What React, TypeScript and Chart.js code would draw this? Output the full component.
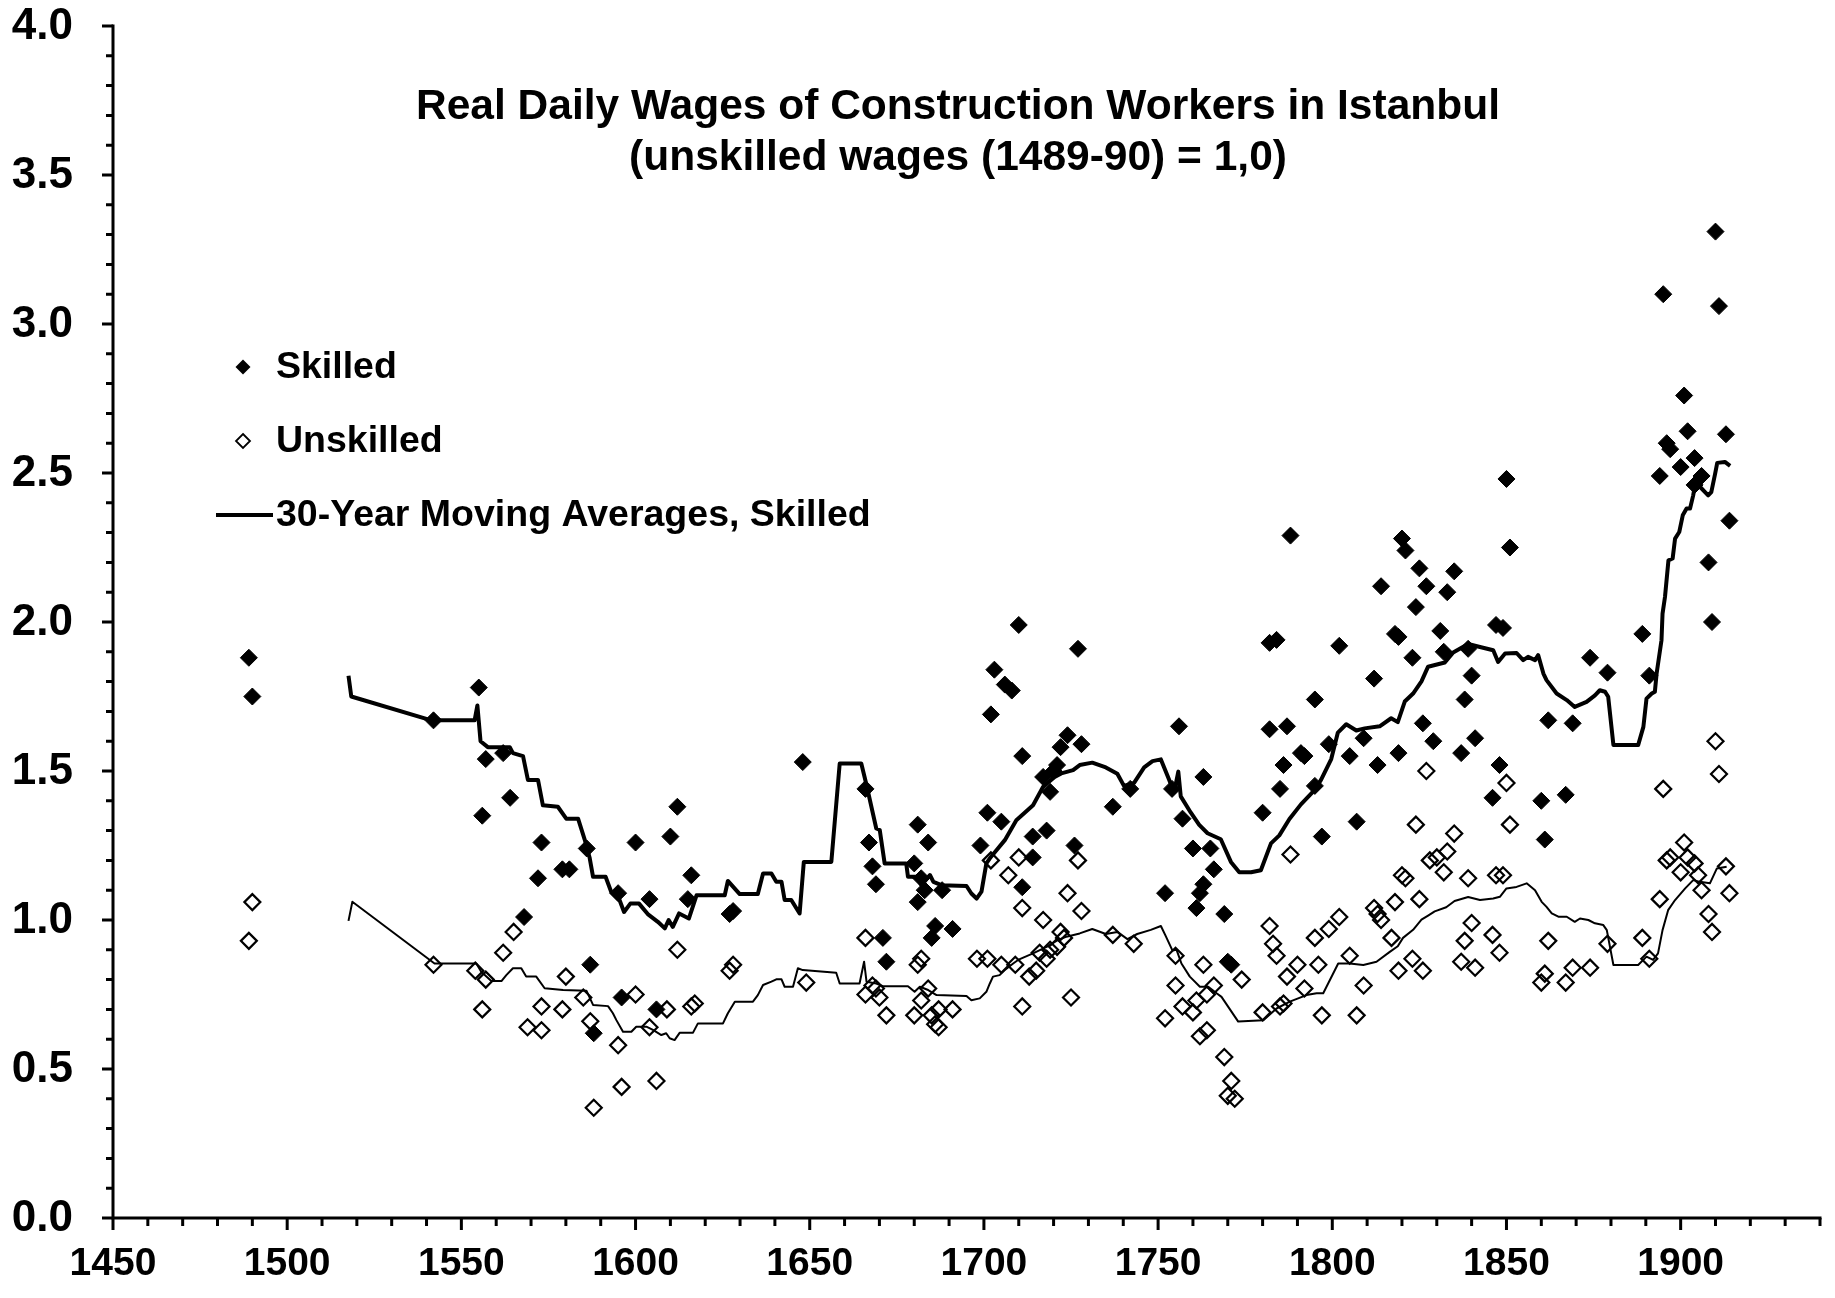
import React, { useEffect, useRef } from "react";
import { Chart, registerables } from "chart.js";

Chart.register(...registerables);

const FONT = '"Liberation Sans", Arial, Helvetica, sans-serif';

const titleLines = [
  "Real Daily Wages of Construction Workers in Istanbul",
  "(unskilled wages (1489-90) = 1,0)",
];
const legendLabels = ["Skilled", "Unskilled", "30-Year Moving Averages, Skilled"];

const skilledYears = [
  1489, 1490, 1542, 1555, 1556, 1557, 1562, 1564, 1568, 1572, 1573, 1579, 1581, 1586, 1587, 1588,
  1595, 1596, 1600, 1604, 1606, 1610, 1612, 1615, 1616, 1627, 1628, 1648, 1666, 1667, 1668, 1669,
  1671, 1672, 1680, 1681, 1681, 1682, 1683, 1684, 1685, 1686, 1688, 1691, 1699, 1701, 1702, 1703,
  1705, 1706, 1708, 1710, 1711, 1711, 1714, 1714, 1717, 1718, 1719, 1720, 1721, 1722, 1724, 1726,
  1727, 1728, 1737, 1742, 1752, 1754, 1756, 1757, 1760, 1761, 1762, 1763, 1763, 1765, 1766, 1769,
  1770, 1771, 1780, 1782, 1782, 1784, 1785, 1786, 1787, 1788, 1791, 1792, 1795, 1795, 1797, 1799,
  1802, 1805, 1807, 1809, 1812, 1813, 1814, 1818, 1819, 1819, 1820, 1821, 1823, 1824, 1825, 1826,
  1827, 1829, 1831, 1832, 1833, 1835, 1837, 1838, 1839, 1840, 1841, 1846, 1847, 1848, 1849, 1850,
  1851, 1860, 1861, 1862, 1867, 1869, 1874, 1879, 1889, 1891, 1894, 1895, 1896, 1897, 1900, 1901,
  1902, 1904, 1904, 1906, 1908, 1909, 1910, 1911, 1913, 1914,
];
const skilledWages = [
  1.88, 1.75, 1.67, 1.78, 1.35, 1.54, 1.56, 1.41, 1.01, 1.14, 1.26, 1.17, 1.17, 1.24, 0.85, 0.62,
  1.09, 0.74, 1.26, 1.07, 0.7, 1.28, 1.38, 1.07, 1.15, 1.02, 1.03, 1.53, 1.44, 1.26, 1.18, 1.12,
  0.94, 0.86, 1.19, 1.32, 1.06, 1.14, 1.1, 1.26, 0.94, 0.98, 1.1, 0.97, 1.25, 1.36, 1.69, 1.84,
  1.33, 1.79, 1.77, 1.99, 1.55, 1.11, 1.21, 1.28, 1.48, 1.3, 1.43, 1.5, 1.52, 1.58, 1.62, 1.25,
  1.91, 1.59, 1.38, 1.44, 1.09, 1.44, 1.65, 1.34, 1.24, 1.04, 1.09, 1.12, 1.48, 1.24, 1.17, 1.02,
  0.86, 0.85, 1.36, 1.93, 1.64, 1.94, 1.44, 1.52, 1.65, 2.29, 1.56, 1.55, 1.74, 1.45, 1.28, 1.59,
  1.92, 1.55, 1.33, 1.61, 1.81, 1.52, 2.12, 1.96, 1.95, 1.56, 2.28, 2.24, 1.88, 2.05, 2.18, 1.66,
  2.12, 1.6, 1.97, 1.9, 2.1, 2.17, 1.56, 1.74, 1.91, 1.82, 1.61, 1.41, 1.99, 1.52, 1.98, 2.48,
  2.25, 1.4, 1.27, 1.67, 1.42, 1.66, 1.88, 1.83, 1.96, 1.82, 2.49, 3.1, 2.6, 2.58, 2.52, 2.76,
  2.64, 2.55, 2.46, 2.49, 2.2, 2.0, 3.31, 3.06, 2.63, 2.34,
];

const unskilledYears = [
  1489, 1490, 1542, 1554, 1556, 1557, 1562, 1565, 1569, 1573, 1573, 1579, 1580, 1585, 1587, 1588,
  1595, 1596, 1600, 1604, 1606, 1609, 1612, 1616, 1617, 1627, 1628, 1649, 1666, 1666, 1668, 1669,
  1670, 1672, 1680, 1681, 1682, 1682, 1684, 1685, 1686, 1687, 1687, 1691, 1698, 1701, 1702, 1705,
  1707, 1709, 1710, 1711, 1711, 1713, 1715, 1716, 1717, 1718, 1719, 1721, 1722, 1723, 1724, 1725,
  1727, 1728, 1737, 1743, 1752, 1755, 1755, 1757, 1760, 1761, 1762, 1763, 1764, 1764, 1766, 1769,
  1770, 1771, 1772, 1774, 1780, 1782, 1783, 1784, 1785, 1786, 1787, 1788, 1790, 1792, 1795, 1796,
  1797, 1799, 1802, 1805, 1807, 1809, 1812, 1813, 1814, 1817, 1818, 1819, 1820, 1821, 1823, 1824,
  1825, 1826, 1827, 1828, 1830, 1832, 1833, 1835, 1837, 1838, 1839, 1840, 1841, 1846, 1847, 1848,
  1849, 1850, 1851, 1860, 1861, 1862, 1867, 1869, 1874, 1879, 1889, 1891, 1894, 1895, 1896, 1897,
  1900, 1901, 1902, 1904, 1905, 1906, 1908, 1909, 1910, 1911, 1913, 1914,
];
const unskilledWages = [
  0.93, 1.06, 0.85, 0.83, 0.7, 0.8, 0.89, 0.96, 0.64, 0.71, 0.63, 0.7, 0.81, 0.74, 0.66, 0.37,
  0.58, 0.44, 0.75, 0.64, 0.46, 0.7, 0.9, 0.71, 0.72, 0.83, 0.85, 0.79, 0.94, 0.75, 0.78, 0.77,
  0.74, 0.68, 0.68, 0.85, 0.87, 0.73, 0.77, 0.68, 0.65, 0.64, 0.7, 0.7, 0.87, 0.87, 1.2, 0.85,
  1.15, 0.85, 1.21, 1.04, 0.71, 0.81, 0.83, 0.89, 1.0, 0.87, 0.9, 0.91, 0.96, 0.94, 1.09, 0.74,
  1.2, 1.03, 0.95, 0.92, 0.67, 0.88, 0.78, 0.71, 0.69, 0.73, 0.61, 0.85, 0.75, 0.63, 0.78, 0.54,
  0.41, 0.46, 0.4, 0.8, 0.69, 0.98, 0.92, 0.88, 0.71, 0.72, 0.81, 1.22, 0.85, 0.77, 0.94, 0.85,
  0.68, 0.97, 1.01, 0.88, 0.68, 0.78, 1.04, 1.02, 1.0, 0.94, 1.06, 0.83, 1.15, 1.14, 0.87, 1.32,
  1.07, 0.83, 1.5, 1.2, 1.21, 1.16, 1.23, 1.29, 0.86, 0.93, 1.14, 0.99, 0.84, 0.95, 1.15, 0.89,
  1.15, 1.46, 1.32, 0.79, 0.82, 0.93, 0.79, 0.84, 0.84, 0.92, 0.94, 0.87, 1.07, 1.44, 1.2, 1.21,
  1.16, 1.26, 1.21, 1.19, 1.15, 1.1, 1.02, 0.96, 1.6, 1.49, 1.18, 1.09,
];

const skilledAvgYears = [
  1517.6, 1518.4, 1541.4, 1553.8, 1554.6, 1555.5, 1557.6, 1563.9, 1564.8, 1567.7, 1569.1, 1572,
  1573.4, 1577.7, 1580.1, 1583.5, 1585.4, 1586.8, 1587.8, 1591.4, 1593, 1595.4, 1596.7, 1598.5,
  1601, 1603.5, 1606.4, 1608.4, 1609.5, 1610.7, 1612.5, 1615.3, 1617.5, 1625.6, 1626.5, 1629.9,
  1635.1, 1636.6, 1639, 1640.4, 1641.9, 1642.8, 1644.7, 1647.1, 1648.3, 1656.2, 1658.6, 1664.8,
  1666.3, 1669.1, 1670.1, 1671.5, 1677.7, 1678.2, 1680.6, 1682.1, 1684.5, 1685.5, 1687.8, 1695,
  1696.4, 1697.9, 1699.3, 1700.7, 1701.7, 1703.6, 1706, 1709.3, 1714.1, 1717, 1720.3, 1722.2,
  1725.6, 1727.5, 1731.1, 1735, 1738.3, 1740.2, 1743.1, 1746, 1748.4, 1750.8, 1752.7, 1754.6,
  1755.8, 1756.5, 1759.4, 1761.8, 1764.2, 1768, 1770.9, 1773.3, 1776.7, 1779.5, 1782.4, 1784.8,
  1787.7, 1791, 1794.9, 1796.8, 1799.7, 1801.6, 1804, 1806.9, 1809.3, 1813.6, 1816.9, 1818.8,
  1820.8, 1823.2, 1825.6, 1827.5, 1832.3, 1834.7, 1839, 1842.4, 1846.2, 1847.6, 1849.6, 1852.9,
  1854.8, 1856.2, 1858.2, 1859.1, 1860.6, 1861.5, 1864.4, 1867.3, 1869.6, 1873, 1875.4, 1876.8,
  1878.3, 1879.2, 1880.7, 1887.8, 1889.3, 1890.2, 1891.7, 1892.6, 1893.1, 1894.5, 1894.8, 1895.5,
  1896.5, 1897.7, 1898.4, 1899.6, 1900.6, 1901.7, 1902.7, 1903.6, 1904.1, 1905.6, 1907, 1907.9,
  1908.8, 1909.9, 1910.5, 1912.7, 1914.2,
];
const skilledAvgValues = [
  1.82, 1.75, 1.67, 1.67, 1.72, 1.6, 1.58, 1.58, 1.56, 1.55, 1.47, 1.47, 1.385, 1.38, 1.34, 1.34,
  1.27, 1.21, 1.145, 1.145, 1.095, 1.067, 1.027, 1.055, 1.055, 1.02, 0.994, 0.972, 1.0, 0.977,
  1.022, 1.005, 1.083, 1.083, 1.131, 1.087, 1.087, 1.156, 1.156, 1.128, 1.128, 1.067, 1.067, 1.022,
  1.195, 1.195, 1.525, 1.525, 1.453, 1.307, 1.302, 1.19, 1.19, 1.145, 1.145, 1.117, 1.151, 1.128,
  1.117, 1.114, 1.089, 1.072, 1.095, 1.19, 1.207, 1.234, 1.268, 1.335, 1.385, 1.447, 1.48, 1.492,
  1.503, 1.52, 1.528, 1.512, 1.491, 1.45, 1.46, 1.512, 1.533, 1.539, 1.484, 1.429, 1.498, 1.415,
  1.36, 1.319, 1.291, 1.271, 1.195, 1.16, 1.16, 1.167, 1.257, 1.284, 1.339, 1.388, 1.436, 1.471,
  1.54, 1.629, 1.657, 1.636, 1.643, 1.65, 1.677, 1.664, 1.733, 1.76, 1.801, 1.85, 1.864, 1.898,
  1.926, 1.916, 1.905, 1.866, 1.894, 1.896, 1.872, 1.883, 1.872, 1.889, 1.827, 1.805, 1.76, 1.738,
  1.715, 1.732, 1.754, 1.771, 1.766, 1.749, 1.587, 1.587, 1.648, 1.743, 1.76, 1.766, 1.827, 1.939,
  2.028, 2.084, 2.207, 2.213, 2.28, 2.302, 2.358, 2.381, 2.381, 2.425, 2.459, 2.453, 2.436, 2.425,
  2.436, 2.498, 2.534, 2.537, 2.524,
];

const unskilledAvgYears = [
  1517.6, 1518.7, 1542.3, 1554.3, 1555.7, 1558.6, 1561.5, 1562.9, 1564.8, 1567.2, 1568.6, 1571.5,
  1573.9, 1579.2, 1585.9, 1587.8, 1592.1, 1593.5, 1594.5, 1596.4, 1598.8, 1600.2, 1603.1, 1605,
  1607.4, 1608.8, 1609.8, 1611.2, 1612.7, 1616.5, 1617.9, 1625.1, 1626.5, 1628.5, 1633.7, 1635.1,
  1636.6, 1639, 1640.4, 1641.9, 1642.8, 1645.2, 1646.6, 1648, 1657.6, 1658.6, 1664.3, 1665.6,
  1666.3, 1669.1, 1671, 1678.2, 1680.1, 1681.6, 1684, 1686.4, 1695, 1696.4, 1698.8, 1700.7, 1701.7,
  1702.6, 1704.5, 1706, 1708.4, 1709.8, 1714.1, 1718, 1721.3, 1723.7, 1727.5, 1731.1, 1735, 1738.3,
  1741.2, 1744, 1747.9, 1750.8, 1752.2, 1754.1, 1755.3, 1756.7, 1759.1, 1762, 1764.4, 1766.8,
  1768.2, 1773, 1780.2, 1784, 1787.8, 1792.6, 1795.5, 1797.4, 1801.7, 1805, 1808.9, 1812.7, 1816.5,
  1818.8, 1820.3, 1823.2, 1825.6, 1827.5, 1829.4, 1832.7, 1835.1, 1839, 1842.4, 1846.2, 1848.1,
  1850, 1852.9, 1855.8, 1858.2, 1860.1, 1861.5, 1863, 1864.9, 1867.3, 1869.6, 1871.1, 1873.5,
  1875.4, 1877.8, 1878.8, 1880.7, 1887.8, 1890.2, 1892.1, 1893.5, 1894.8, 1896.4, 1898.4, 1901.3,
  1903.6, 1905.5, 1908.4, 1910.4, 1913.2,
];
const unskilledAvgValues = [
  0.997, 1.061, 0.854, 0.854, 0.826, 0.795, 0.795, 0.815, 0.838, 0.838, 0.81, 0.81, 0.771, 0.765,
  0.763, 0.715, 0.711, 0.687, 0.664, 0.625, 0.625, 0.642, 0.642, 0.631, 0.614, 0.62, 0.603, 0.597,
  0.622, 0.622, 0.653, 0.653, 0.687, 0.726, 0.726, 0.748, 0.782, 0.793, 0.801, 0.801, 0.776, 0.776,
  0.838, 0.832, 0.823, 0.787, 0.787, 0.86, 0.793, 0.787, 0.778, 0.778, 0.759, 0.776, 0.765, 0.748,
  0.745, 0.731, 0.737, 0.759, 0.787, 0.81, 0.815, 0.832, 0.854, 0.866, 0.888, 0.91, 0.933, 0.944,
  0.955, 0.97, 0.953, 0.96, 0.936, 0.953, 0.967, 0.98, 0.946, 0.898, 0.9, 0.854, 0.81, 0.776, 0.776,
  0.754, 0.742, 0.659, 0.664, 0.703, 0.726, 0.748, 0.754, 0.754, 0.854, 0.854, 0.849, 0.86, 0.893,
  0.912, 0.94, 0.967, 1.001, 1.015, 1.029, 1.043, 1.064, 1.077, 1.067, 1.072, 1.078, 1.106, 1.111,
  1.123, 1.1, 1.061, 1.044, 1.022, 1.011, 1.011, 0.994, 1.005, 1.0, 0.989, 0.983, 0.966, 0.849,
  0.849, 0.877, 0.866, 0.888, 0.966, 1.033, 1.067, 1.106, 1.134, 1.128, 1.123, 1.173, 1.179,
];

const toPoints = (xs: number[], ys: number[]) => xs.map((x, i) => ({ x, y: ys[i] }));

const isMultiple = (v: number, step: number) => Math.abs(v / step - Math.round(v / step)) < 1e-6;

function drawDiamond(ctx: CanvasRenderingContext2D, x: number, y: number, r: number) {
  ctx.beginPath();
  ctx.moveTo(x, y - r);
  ctx.lineTo(x + r, y);
  ctx.lineTo(x, y + r);
  ctx.lineTo(x - r, y);
  ctx.closePath();
}

const overlayPlugin = {
  id: "overlay",
  afterDraw(chart: any) {
    const { ctx, chartArea: a, scales } = chart;
    const xs = scales.x;
    const ys = scales.y;
    ctx.save();
    ctx.strokeStyle = "#000";
    ctx.fillStyle = "#000";
    ctx.lineWidth = 3;
    ctx.lineCap = "butt";
    // axis lines
    ctx.beginPath();
    ctx.moveTo(a.left, a.top - 1.5);
    ctx.lineTo(a.left, a.bottom + 1.5);
    ctx.moveTo(a.left - 1.5, a.bottom);
    ctx.lineTo(a.right + 1.5, a.bottom);
    ctx.stroke();
    // tick marks
    ctx.beginPath();
    ys.ticks.forEach((t: any) => {
      const py = ys.getPixelForValue(t.value);
      const len = isMultiple(t.value, 0.5) ? 11 : 7;
      ctx.moveTo(a.left - len, py);
      ctx.lineTo(a.left, py);
    });
    xs.ticks.forEach((t: any) => {
      const px = xs.getPixelForValue(t.value);
      const len = isMultiple(t.value, 50) ? 12 : 8;
      ctx.moveTo(px, a.bottom);
      ctx.lineTo(px, a.bottom + len);
    });
    ctx.stroke();

    // tick labels
    ctx.textBaseline = "middle";
    ctx.font = `bold 44px ${FONT}`;
    ctx.textAlign = "right";
    ys.ticks.forEach((t: any) => {
      if (!isMultiple(t.value, 0.5)) return;
      ctx.fillText(Number(t.value).toFixed(1), a.left - 40, ys.getPixelForValue(t.value) + 1);
    });
    ctx.font = `bold 39px ${FONT}`;
    ctx.textAlign = "center";
    xs.ticks.forEach((t: any) => {
      if (!isMultiple(t.value, 50)) return;
      ctx.fillText(String(Math.round(t.value)), xs.getPixelForValue(t.value), a.bottom + 46);
    });

    // title
    ctx.textAlign = "center";
    ctx.font = `bold 42.5px ${FONT}`;
    ctx.fillText(titleLines[0], 958, 107);
    ctx.fillText(titleLines[1], 958, 158);

    // legend
    ctx.textAlign = "left";
    ctx.font = `bold 37.5px ${FONT}`;
    drawDiamond(ctx, 243, 367, 7.5);
    ctx.fill();
    ctx.fillText(legendLabels[0], 276, 368);
    ctx.lineWidth = 1.8;
    drawDiamond(ctx, 243, 441, 7);
    ctx.stroke();
    ctx.fillText(legendLabels[1], 276, 442);
    ctx.lineWidth = 4;
    ctx.beginPath();
    ctx.moveTo(216, 515);
    ctx.lineTo(273, 515);
    ctx.stroke();
    ctx.fillText(legendLabels[2], 276, 516);
    ctx.restore();
  },
};

export default function App() {
  const canvasRef = useRef<HTMLCanvasElement | null>(null);

  useEffect(() => {
    document.body.style.margin = "0";
    const canvas = canvasRef.current;
    if (!canvas) return;
    const chart = new Chart(canvas, {
      type: "scatter",
      data: {
        datasets: [
          {
            label: legendLabels[0],
            data: toPoints(skilledYears, skilledWages),
            pointStyle: "rectRot",
            pointRadius: 8.5,
            pointBackgroundColor: "#000",
            pointBorderColor: "#000",
            pointBorderWidth: 1,
            showLine: false,
            order: 1,
          },
          {
            label: legendLabels[1],
            data: toPoints(unskilledYears, unskilledWages),
            pointStyle: "rectRot",
            pointRadius: 8,
            pointBackgroundColor: "rgba(255,255,255,0)",
            pointBorderColor: "#000",
            pointBorderWidth: 2.2,
            showLine: false,
            order: 2,
          },
          {
            label: legendLabels[2],
            data: toPoints(skilledAvgYears, skilledAvgValues),
            showLine: true,
            pointRadius: 0,
            borderColor: "#000",
            borderWidth: 4,
            borderJoinStyle: "round",
            tension: 0,
            order: 3,
          },
          {
            label: "30-Year Moving Averages, Unskilled",
            data: toPoints(unskilledAvgYears, unskilledAvgValues),
            showLine: true,
            pointRadius: 0,
            borderColor: "#000",
            borderWidth: 2,
            borderJoinStyle: "round",
            tension: 0,
            order: 4,
          },
        ],
      },
      options: {
        responsive: false,
        animation: false,
        devicePixelRatio: 1,
        layout: { padding: { top: 26, right: 15, left: 0, bottom: 0 } },
        plugins: {
          legend: { display: false },
          title: { display: false },
          tooltip: { enabled: false },
        },
        scales: {
          x: {
            type: "linear",
            min: 1450,
            max: 1940,
            afterFit: (s: any) => {
              s.height = 80;
            },
            ticks: { display: false, stepSize: 10, autoSkip: false },
            grid: { display: false, drawTicks: false },
            border: { display: false },
          },
          y: {
            min: 0,
            max: 4,
            afterFit: (s: any) => {
              s.width = 113;
            },
            ticks: { display: false, stepSize: 0.1, autoSkip: false },
            grid: { display: false, drawTicks: false },
            border: { display: false },
          },
        },
      },
      plugins: [overlayPlugin],
    });
    return () => chart.destroy();
  }, []);

  return (
    <div style={{ position: "relative", width: 1835, height: 1298, background: "#fff" }}>
      <canvas ref={canvasRef} width={1835} height={1298} style={{ display: "block" }} />
    </div>
  );
}
